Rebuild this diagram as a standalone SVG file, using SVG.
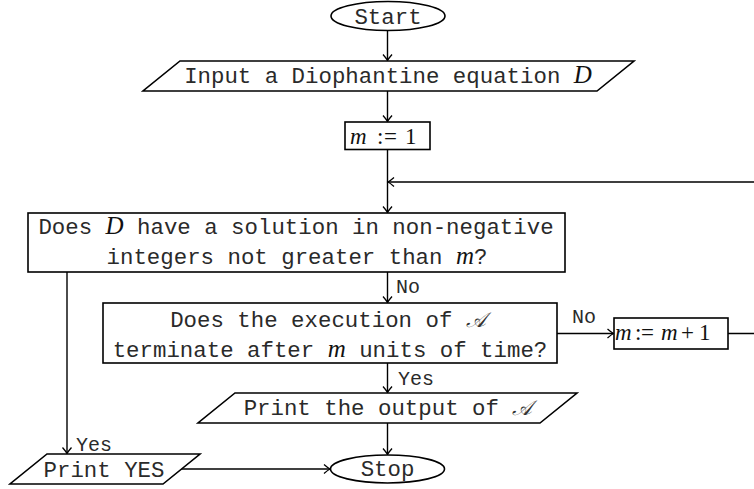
<svg xmlns="http://www.w3.org/2000/svg" width="754" height="489" viewBox="0 0 754 489">
<defs>
<marker id="arr" markerUnits="userSpaceOnUse" markerWidth="12" markerHeight="12" viewBox="-8 -6 10 12" refX="0" refY="0" orient="auto">
<path d="M-6,-4.5 Q-2,-1 0,0 Q-2,1 -6,4.5" fill="none" stroke="#000" stroke-width="1.3"/>
</marker>
<style>
.shape{fill:#fff;stroke:#000;stroke-width:1.6}
.edge{fill:none;stroke:#000;stroke-width:1.4;marker-end:url(#arr)}
.t{font-family:"Liberation Mono","DejaVu Sans Mono",monospace;font-size:22.4px;fill:#2a2a2a;text-anchor:middle}
.lbl{font-family:"Liberation Mono","DejaVu Sans Mono",monospace;font-size:20px;fill:#2a2a2a}
.m{font-family:"Liberation Serif","DejaVu Serif",serif;font-style:italic;font-size:25px;fill:#111}
.r{font-family:"Liberation Serif","DejaVu Serif",serif;font-size:23px;fill:#111}
.mi{font-family:"Liberation Serif","DejaVu Serif",serif;font-style:italic;font-size:23px;fill:#111}
.s{font-family:"DejaVu Serif","Noto Sans","DejaVu Sans",serif;font-style:italic;font-size:21px;fill:#333}
</style>
</defs>
<g id="connectors">
<line class="edge" x1="387.5" y1="31" x2="387.5" y2="60.5"/>
<line class="edge" x1="387.5" y1="91" x2="387.5" y2="121.5"/>
<line class="edge" x1="387.5" y1="149" x2="387.5" y2="212.5"/>
<polyline class="edge" points="728,333.5 760,333.5 760,182 388,182"/>
<line class="edge" x1="387.5" y1="272" x2="387.5" y2="302.5"/>
<text class="lbl" x="396" y="293">No</text>
<line class="edge" x1="557" y1="333.5" x2="613.5" y2="333.5"/>
<text class="lbl" x="572" y="323">No</text>
<line class="edge" x1="387.5" y1="363" x2="387.5" y2="392.5"/>
<text class="lbl" x="398" y="385">Yes</text>
<line class="edge" x1="387.5" y1="423" x2="387.5" y2="454.5"/>
<line class="edge" x1="67" y1="272" x2="67" y2="453.5"/>
<text class="lbl" x="76" y="451">Yes</text>
<line class="edge" x1="181" y1="469" x2="330" y2="469"/>
</g>
<g id="start">
<ellipse class="shape" cx="388" cy="16" rx="57" ry="14.5"/>
<text class="t" x="388" y="23.5">Start</text>
</g>
<g id="input">
<polygon class="shape" points="180,61 634,61 597,91 143,91"/>
<text class="t" x="388" y="83">Input a Diophantine equation <tspan class="m">D</tspan></text>
</g>
<g id="init">
<rect class="shape" x="345" y="122" width="85" height="27.5"/>
<text class="mi" x="350" y="144">m</text>
<text class="r" x="377" y="144">:</text>
<text class="r" x="384" y="144">=</text>
<text class="r" x="405" y="144">1</text>
</g>
<g id="decision1">
<rect class="shape" x="28" y="213" width="537" height="59"/>
<text class="t" x="296" y="234">Does <tspan class="m">D</tspan> have a solution in non-negative</text>
<text class="t" x="297" y="264">integers not greater than <tspan class="m">m</tspan>?</text>
</g>
<g id="decision2">
<rect class="shape" x="103" y="303" width="454" height="60"/>
<text class="t" x="328" y="327">Does the execution of <tspan class="s">𝒜</tspan></text>
<text class="t" x="330" y="357">terminate after <tspan class="m">m</tspan> units of time?</text>
</g>
<g id="increment">
<rect class="shape" x="614" y="318" width="114" height="31"/>
<text class="mi" x="615" y="340">m</text>
<text class="r" x="635" y="340">:</text>
<text class="r" x="641" y="340">=</text>
<text class="mi" x="661" y="340">m</text>
<text class="r" x="681" y="340">+</text>
<text class="r" x="699" y="340">1</text>
</g>
<g id="output">
<polygon class="shape" points="235,393 577,393 540,423 198,423"/>
<text class="t" x="388" y="415">Print the output of <tspan class="s">𝒜</tspan></text>
</g>
<g id="printyes">
<polygon class="shape" points="47,454 200,454 163,484 10,484"/>
<text class="t" x="104" y="477">Print YES</text>
</g>
<g id="stop">
<ellipse class="shape" cx="387.5" cy="469" rx="57" ry="14"/>
<text class="t" x="387.5" y="476">Stop</text>
</g>
</svg>
